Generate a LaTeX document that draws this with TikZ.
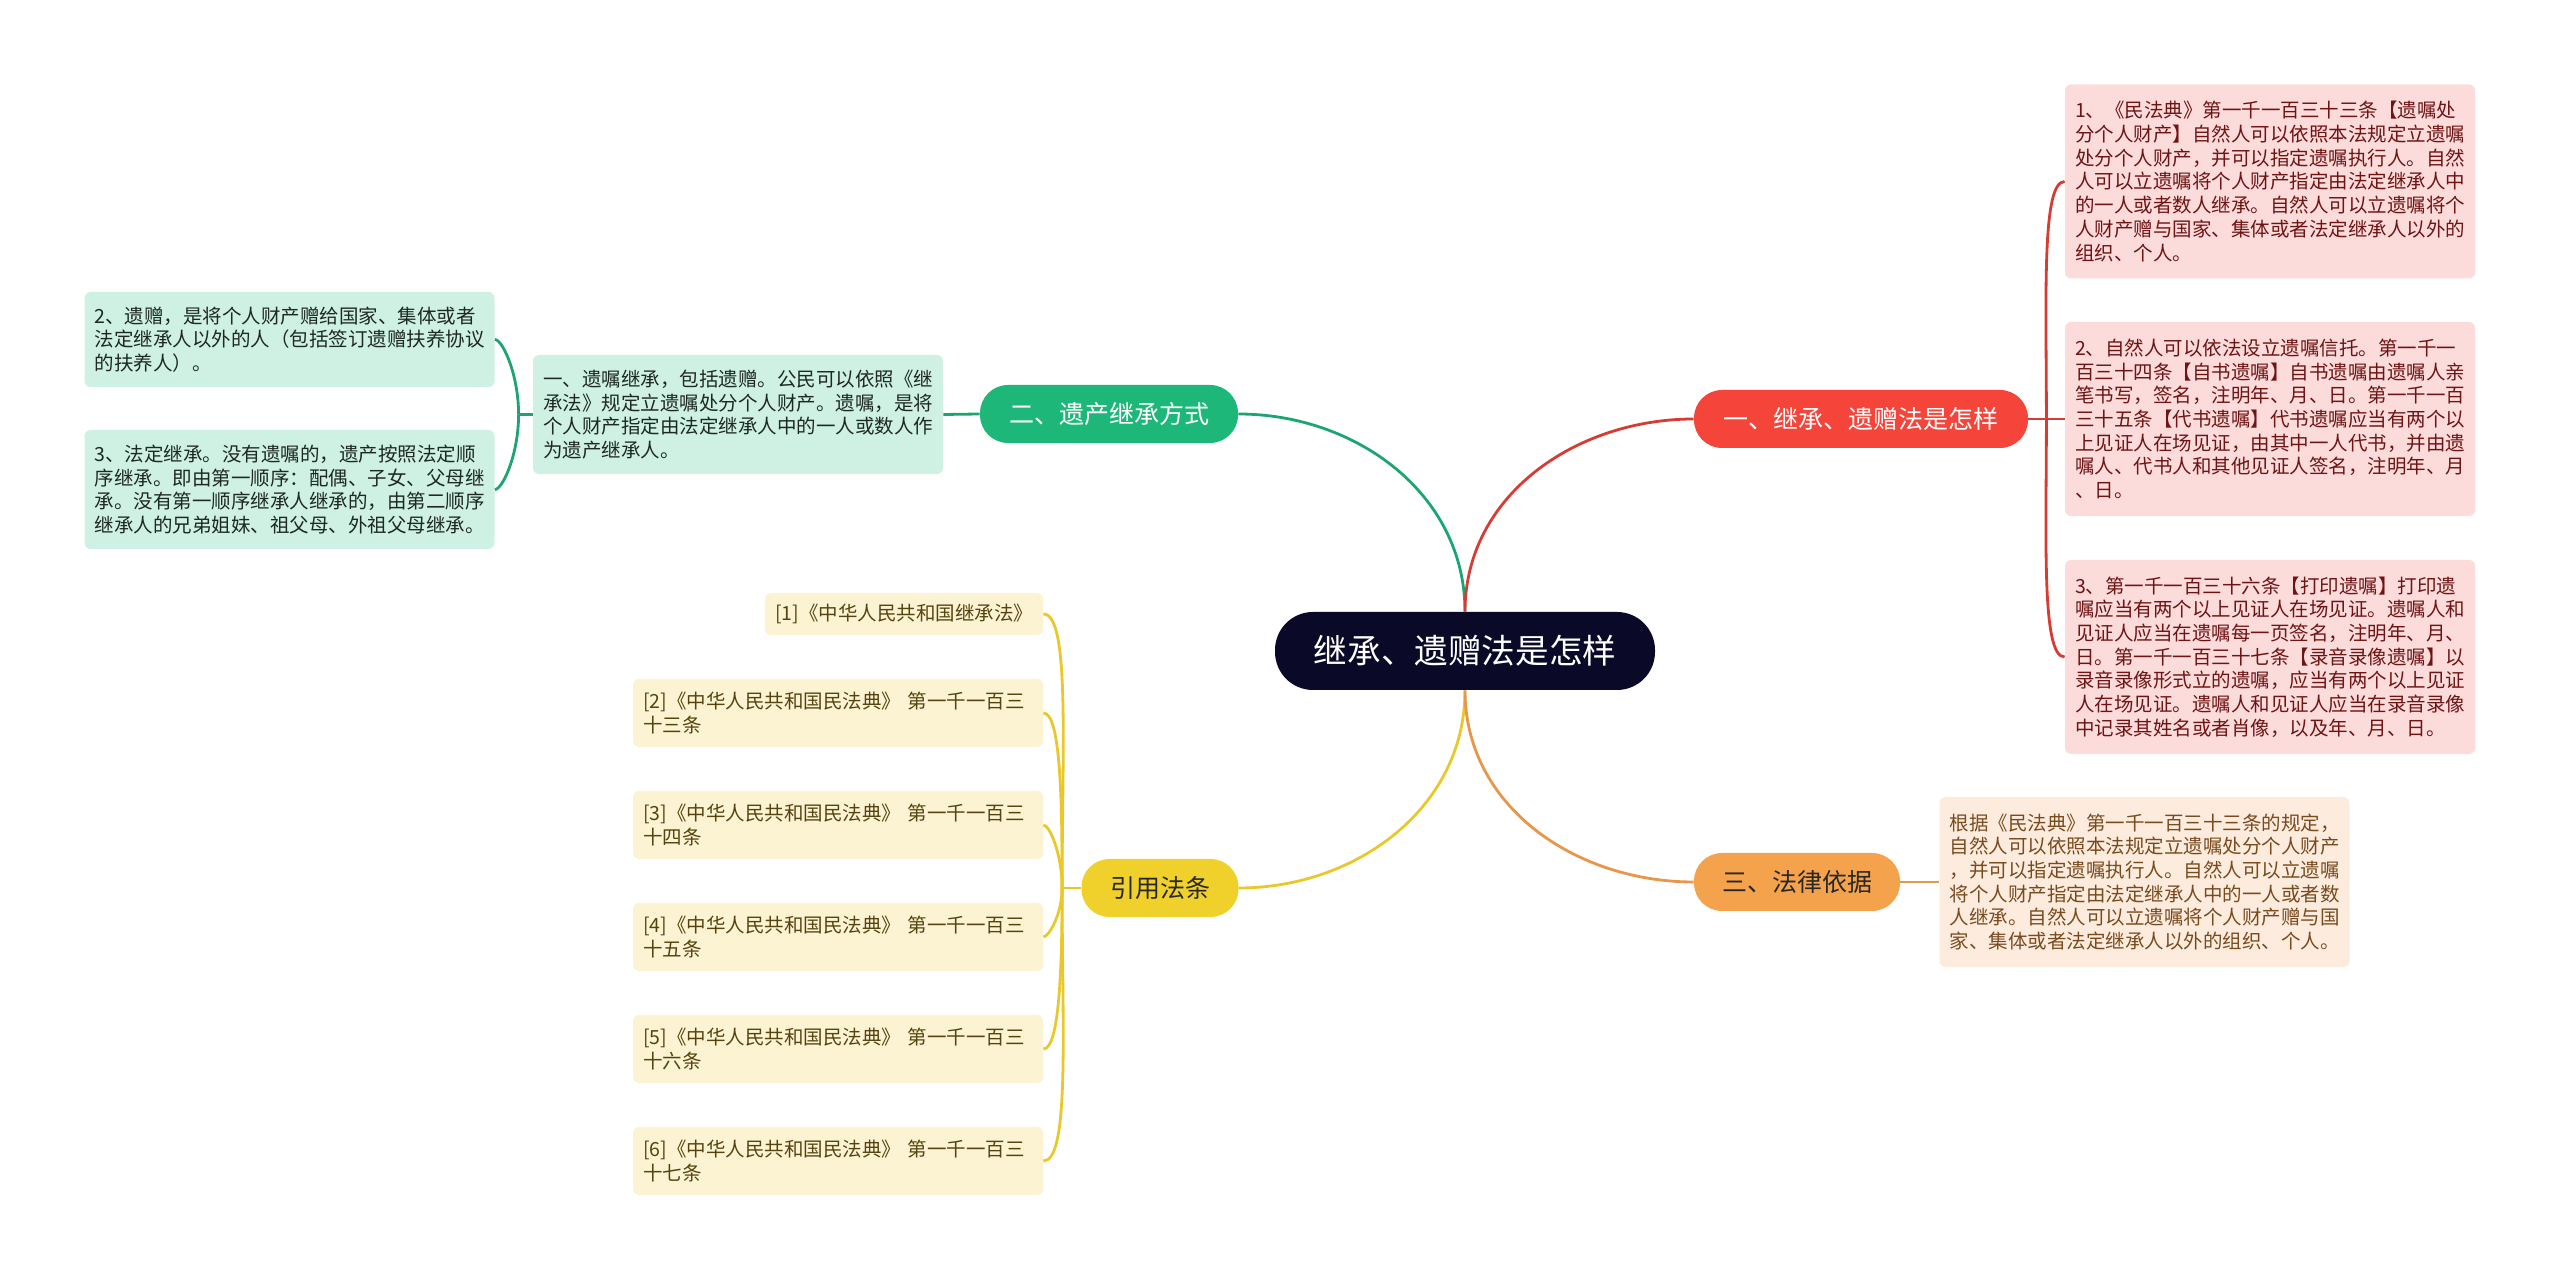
\documentclass[tikz,border=0pt]{standalone}
\usepackage{fontspec}
\setmainfont{Noto Sans CJK SC}
\usepackage{tikz}
\usetikzlibrary{calc}
\definecolor{RootFill}{RGB}{10,10,40}
\definecolor{RedFill} {RGB}{245,68,58}
\definecolor{RedLine} {RGB}{214,60,52}
\definecolor{RedLeaf} {RGB}{252,219,219}
\definecolor{RedText} {RGB}{110,20,20}
\definecolor{GrnFill} {RGB}{30,183,122}
\definecolor{GrnLine} {RGB}{26,165,113}
\definecolor{GrnLeaf} {RGB}{206,241,227}
\definecolor{GrnText} {RGB}{30,40,36}
\definecolor{OrgFill} {RGB}{245,162,76}
\definecolor{OrgLine} {RGB}{232,150,74}
\definecolor{OrgLeaf} {RGB}{253,236,222}
\definecolor{OrgText} {RGB}{120,75,30}
\definecolor{YelFill} {RGB}{240,208,42}
\definecolor{YelLine} {RGB}{234,200,44}
\definecolor{YelLeaf} {RGB}{252,243,211}
\definecolor{YelText} {RGB}{85,68,15}
\definecolor{DarkText}{RGB}{40,40,40}
\tikzset{
  nd_root/.style={
    rectangle, rounded corners=19pt, fill=RootFill, text=white,
    minimum width=190pt, minimum height=39pt,
    font=\fontsize{16.8}{20}\selectfont},
  nd_main/.style={
    rectangle, rounded corners=14pt, minimum height=29pt,
    font=\fontsize{12.5}{15}\selectfont},
  nd_leaf/.style={
    rectangle, rounded corners=3pt,
    inner xsep=5pt, inner ysep=0pt,
    text width=195pt, align=left,
    font=\fontsize{9.75}{11.85}\selectfont},
  ln/.style={line width=1.4pt},
  hook/.style={out looseness=1.3, in looseness=0.25},
}

\begin{document}
\begin{tikzpicture}[x=0.5pt,y=0.5pt]

\useasboundingbox (0,0) rectangle (2560,1280);

\node[nd_root] at (1465,629) (root){继承、遗赠法是怎样};

%% branches
\node[nd_main, fill=RedFill, text=white, minimum width=167pt] at (1861,861) (rn){一、继承、遗赠法是怎样};
\node[nd_main, fill=GrnFill, text=white, minimum width=129pt] at (1109,866) (gn){二、遗产继承方式};
\node[nd_main, fill=OrgFill, text=DarkText, minimum width=103pt] at (1797,398) (on){三、法律依据};
\node[nd_main, fill=YelFill, text=DarkText, minimum width=78.5pt] at (1160,392) (yn){引用法条};

%% red leaves
\node[nd_leaf, fill=RedLeaf, text=RedText, minimum height=97pt] at (2270,1098.5) (r1){%
1、《民法典》第一千一百三十三条【遗嘱处\\
分个人财产】自然人可以依照本法规定立遗嘱\\
处分个人财产，并可以指定遗嘱执行人。自然\\
人可以立遗嘱将个人财产指定由法定继承人中\\
的一人或者数人继承。自然人可以立遗嘱将个\\
人财产赠与国家、集体或者法定继承人以外的\\
组织、个人。};
\node[nd_leaf, fill=RedLeaf, text=RedText, minimum height=97pt] at (2270,861) (r2){%
2、自然人可以依法设立遗嘱信托。第一千一\\
百三十四条【自书遗嘱】自书遗嘱由遗嘱人亲\\
笔书写，签名，注明年、月、日。第一千一百\\
三十五条【代书遗嘱】代书遗嘱应当有两个以\\
上见证人在场见证，由其中一人代书，并由遗\\
嘱人、代书人和其他见证人签名，注明年、月\\
、日。};
\node[nd_leaf, fill=RedLeaf, text=RedText, minimum height=97pt] at (2270,623) (r3){%
3、第一千一百三十六条【打印遗嘱】打印遗\\
嘱应当有两个以上见证人在场见证。遗嘱人和\\
见证人应当在遗嘱每一页签名，注明年、月、\\
日。第一千一百三十七条【录音录像遗嘱】以\\
录音录像形式立的遗嘱，应当有两个以上见证\\
人在场见证。遗嘱人和见证人应当在录音录像\\
中记录其姓名或者肖像，以及年、月、日。};

%% orange leaf
\node[nd_leaf, fill=OrgLeaf, text=OrgText, minimum height=85pt] at (2144.5,398) (o1){%
根据《民法典》第一千一百三十三条的规定，\\
自然人可以依照本法规定立遗嘱处分个人财产\\
，并可以指定遗嘱执行人。自然人可以立遗嘱\\
将个人财产指定由法定继承人中的一人或者数\\
人继承。自然人可以立遗嘱将个人财产赠与国\\
家、集体或者法定继承人以外的组织、个人。};

%% green leaves
\node[nd_leaf, fill=GrnLeaf, text=GrnText, minimum height=59.5pt] at (738,865.5) (gl){%
一、遗嘱继承，包括遗赠。公民可以依照《继\\
承法》规定立遗嘱处分个人财产。遗嘱，是将\\
个人财产指定由法定继承人中的一人或数人作\\
为遗产继承人。};
\node[nd_leaf, fill=GrnLeaf, text=GrnText, minimum height=47.5pt] at (289.5,940.5) (g2){%
2、遗赠，是将个人财产赠给国家、集体或者\\
法定继承人以外的人（包括签订遗赠扶养协议\\
的扶养人）。};
\node[nd_leaf, fill=GrnLeaf, text=GrnText, minimum height=59.5pt] at (289.5,790.5) (g3){%
3、法定继承。没有遗嘱的，遗产按照法定顺\\
序继承。即由第一顺序：配偶、子女、父母继\\
承。没有第一顺序继承人继承的，由第二顺序\\
继承人的兄弟姐妹、祖父母、外祖父母继承。};

%% citations
\node[nd_leaf, fill=YelLeaf, text=YelText, text width=129pt, minimum height=21pt] at (904,666) (c1){[1]《中华人民共和国继承法》};
\foreach \n/\y/\t in {2/567/三,3/455/四,4/343/五,5/231/六,6/119/七}
  {\node[nd_leaf, fill=YelLeaf, text=YelText, minimum height=34pt] at (838,\y) (c\n){[\n]《中华人民共和国民法典》 第一千一百三\\十\t 条};}

%% connectors
\draw[ln,GrnLine] (root.north) to[out=90,in=0] (gn.east);
\draw[ln,RedLine] (root.north) to[out=90,in=180] (rn.west);
\draw[ln,YelLine] (root.south) to[out=-90,in=0] (yn.east);
\draw[ln,OrgLine] (root.south) to[out=-90,in=180] (on.west);

\draw[ln,RedLine] (rn.east) -- ++(18,0) coordinate (rk);
\draw[ln,RedLine] (rk) to[out=90,in=180,hook] (r1.west);
\draw[ln,RedLine] (rk) -- (r2.west);
\draw[ln,RedLine] (rk) to[out=-90,in=180,hook] (r3.west);

\draw[ln,OrgLine] (on.east) -- (o1.west);

\draw[ln,GrnLine] (gn.west) -- (gl.east);
\draw[ln,GrnLine] (gl.west) -- ++(-14,0) coordinate (gk);
\draw[ln,GrnLine] (gk) to[out=90,in=0,hook] (g2.east);
\draw[ln,GrnLine] (gk) to[out=-90,in=0,hook] (g3.east);

\draw[ln,YelLine] (yn.west) -- ++(-19,0) coordinate (yk);
\foreach \n/\a in {c1/90,c2/90,c3/90,c4/-90,c5/-90,c6/-90}
  {\draw[ln,YelLine] (yk) to[out=\a,in=0,hook] (\n.east);}

\end{tikzpicture}
\end{document}
